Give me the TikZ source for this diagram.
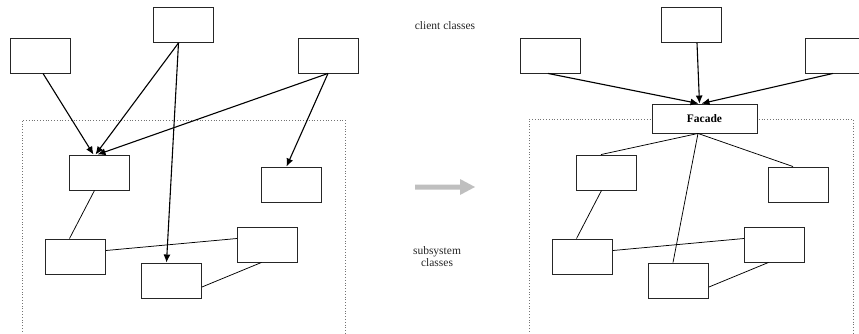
\documentclass[tikz,border=0pt]{standalone}
\usepackage{fontspec}
\setmainfont{Liberation Serif}
\usetikzlibrary{arrows.meta}
\begin{document}
\begin{tikzpicture}[x=1pt,y=-1pt,
  cls/.style={draw=black!85, line width=0.9pt, fill=white, minimum width=60pt, minimum height=35pt, inner sep=0pt},
  facadebox/.style={draw=black!85, line width=0.9pt, fill=white, minimum width=105pt, minimum height=29pt, inner sep=0pt, font=\fontsize{11.5}{13}\selectfont\bfseries},
  uses/.style={draw=black, line width=1.1pt, -{Latex[length=8pt,width=7pt]}},
  link/.style={draw=black, line width=0.75pt},
  pkg/.style={draw=black!55, dotted, line width=0.8pt},
  lbl/.style={font=\fontsize{11.5}{13}\selectfont, text=black!85, align=center, inner sep=0pt}
]
\useasboundingbox (0,0) rectangle (859,334);
\clip (0,0) rectangle (859,334);

% ---------- left panel ----------
\draw[pkg] (22,340) -- (22,120) -- (345,120) -- (345,340);
\node[cls] (A) at (40,55.5) {};
\node[cls] (B) at (183.5,25) {};
\node[cls] (C) at (328,55.5) {};
\node[cls] (D1) at (99.5,172.5) {};
\node[cls] (D2) at (291.5,184.5) {};
\node[cls] (D3) at (75.5,256.5) {};
\node[cls] (D4) at (267.5,244.5) {};
\node[cls] (D5) at (171.5,280.5) {};

\draw[uses] ([xshift=3pt]A.south) -- ([xshift=-6pt]D1.north);
\draw[uses] ([xshift=-5pt]B.south) -- ([xshift=-4pt]D1.north);
\draw[uses] ([xshift=-5pt]B.south) -- ([xshift=-5pt]D5.north);
\draw[uses] (C.south) -- ([xshift=-2pt]D1.north);
\draw[uses] (C.south) -- ([xshift=-5pt]D2.north);
\draw[link] ([xshift=-5pt]D1.south) -- ([xshift=-6pt]D3.north);
\draw[link] ([yshift=6pt]D3.east) -- ([yshift=6pt]D4.west);
\draw[link] ([yshift=-6.5pt]D5.east) -- ([xshift=-6pt]D4.south);

% ---------- middle ----------
\node[lbl] (client) at (445,26) {client classes};
\node[lbl] (sub) at (437,256.5) {subsystem\\[-1pt]classes};
\fill[black!25] (415,184.5) -- (460,184.5) -- (460,179) -- (475,187) -- (460,195) -- (460,189.5) -- (415,189.5) -- cycle;

% ---------- right panel ----------
\draw[pkg] (529,340) -- (529,119) -- (853,119) -- (853,340);
\node[cls] (RA) at (550,55.5) {};
\node[cls] (RB) at (691,25) {};
\node[cls] (RC) at (835,55.5) {};
\node[facadebox] (F) at (704.5,118.5) {Facade};
\node[cls] (RD1) at (606.5,172.5) {};
\node[cls] (RD2) at (798.5,184.5) {};
\node[cls] (RD3) at (582.5,256.5) {};
\node[cls] (RD4) at (774.5,244.5) {};
\node[cls] (RD5) at (678.5,280.5) {};

\draw[uses] ([xshift=-2pt]RA.south) -- ([xshift=-6pt]F.north);
\draw[uses] ([xshift=6pt]RB.south) -- ([xshift=-5pt]F.north);
\draw[uses] ([xshift=-2pt]RC.south) -- ([xshift=-3pt]F.north);
\draw[link] ([xshift=-6.5pt]F.south) -- ([xshift=-5.5pt]RD1.north);
\draw[link] ([xshift=-6.5pt]F.south) -- ([xshift=-5.5pt]RD5.north);
\draw[link] ([xshift=-6.5pt]F.south) -- ([xshift=-5.5pt]RD2.north);
\draw[link] ([xshift=-5pt]RD1.south) -- ([xshift=-6pt]RD3.north);
\draw[link] ([yshift=6pt]RD3.east) -- ([yshift=6pt]RD4.west);
\draw[link] ([yshift=-6.5pt]RD5.east) -- ([xshift=-6pt]RD4.south);
\end{tikzpicture}
\end{document}
